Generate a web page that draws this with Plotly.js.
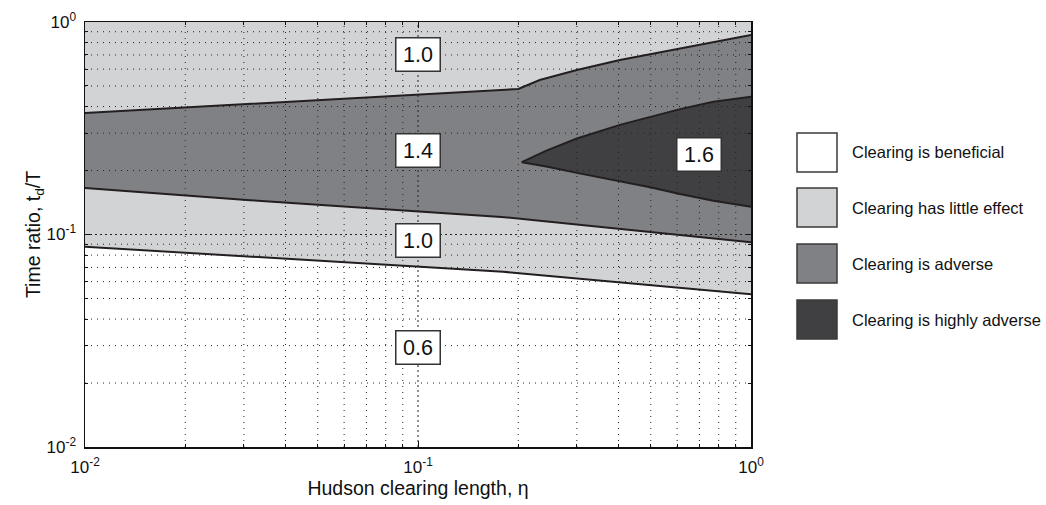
<!DOCTYPE html>
<html>
<head>
<meta charset="utf-8">
<script src="https://cdn.plot.ly/plotly-3.0.1.min.js"></script>
<style>
  html, body { margin: 0; padding: 0; background: #ffffff; }
  #chart { width: 1046px; height: 505px; }
</style>
</head>
<body>
<div id="chart"></div>
<script>
// Boundary between "little effect" (upper band) and "adverse"
const etaA = [0.01, 0.2, 0.232, 0.30, 0.404, 0.612, 1.0];
const tA   = [0.373, 0.484, 0.533, 0.594, 0.663, 0.752, 0.868];

// Boundary between "adverse" and lower "little effect" band
const etaB = [0.01, 0.0313, 0.178, 1.0];
const tB   = [0.1655, 0.145, 0.121, 0.092];

// Boundary between lower "little effect" band and "beneficial"
const etaC = [0.01, 0.0313, 0.18, 1.0];
const tC   = [0.0876, 0.0786, 0.0668, 0.0523];

// "Highly adverse" wedge: upper and lower edges
const etaD  = [0.205, 0.243, 0.30, 0.404, 0.498, 0.612, 0.771, 1.0];
const tDup  = [0.219, 0.248, 0.283, 0.328, 0.358, 0.389, 0.421, 0.445];
const tDlow = [0.219, 0.209, 0.195, 0.178, 0.167, 0.155, 0.144, 0.135];

// Contour level labels
const levelText = ['1.0', '1.4', '1.0', '0.6', '1.6'];
const levelEta  = [0.1, 0.1, 0.1, 0.1, 0.70];
const levelT    = [0.707, 0.248, 0.0934, 0.0294, 0.239];

// Legend entries
const legendLabels = ['Clearing is beneficial', 'Clearing has little effect',
                      'Clearing is adverse', 'Clearing is highly adverse'];
const regionColors = ['#ffffff', '#d2d3d5', '#808184', '#404042'];

// Axis ticks
const tickVals = [0.01, 0.1, 1];
const tickText = ['10<sup>-2</sup>', '10<sup>-1</sup>', '10<sup>0</sup>'];

const edgeColor = '#231f20';
const FONT = 'Liberation Sans, Arial, Helvetica, sans-serif';

// Minor decade positions (2..9 in each decade)
const minorVals = [];
[0.01, 0.1].forEach(d => { for (let m = 2; m <= 9; m++) minorVals.push(+(m * d).toFixed(3)); });

const rev = a => a.slice().reverse();

const traces = [
  // lower "little effect" band extends up to the top; adverse band painted over it
  { x: etaC.concat([1, 0.01]), y: tC.concat([1, 1]), fill: 'toself', fillcolor: regionColors[1],
    mode: 'lines', line: { width: 0 }, hoverinfo: 'skip', showlegend: false },
  { x: etaA.concat(rev(etaB)), y: tA.concat(rev(tB)), fill: 'toself', fillcolor: regionColors[2],
    mode: 'lines', line: { width: 0 }, hoverinfo: 'skip', showlegend: false },
  { x: etaD.concat(rev(etaD)), y: tDup.concat(rev(tDlow)), fill: 'toself', fillcolor: regionColors[3],
    mode: 'lines', line: { width: 0 }, hoverinfo: 'skip', showlegend: false },
  // boundary lines
  { x: etaA, y: tA, mode: 'lines', line: { color: edgeColor, width: 2 }, hoverinfo: 'skip', showlegend: false },
  { x: etaB, y: tB, mode: 'lines', line: { color: edgeColor, width: 2 }, hoverinfo: 'skip', showlegend: false },
  { x: etaC, y: tC, mode: 'lines', line: { color: edgeColor, width: 2 }, hoverinfo: 'skip', showlegend: false },
  { x: rev(etaD).concat(etaD.slice(1)), y: rev(tDup).concat(tDlow.slice(1)), mode: 'lines',
    line: { color: edgeColor, width: 2 }, hoverinfo: 'skip', showlegend: false }
];

// Dotted grid drawn above the filled regions
const shapes = [];
minorVals.concat([0.1]).forEach(v => {
  const dash = (v === 0.1) ? '2px,3px' : '1px,5px';
  shapes.push({ type: 'line', xref: 'x', yref: 'paper', x0: v, x1: v, y0: 0, y1: 1,
                line: { color: '#222', width: 1, dash: dash }, layer: 'above' });
  shapes.push({ type: 'line', xref: 'paper', yref: 'y', x0: 0, x1: 1, y0: v, y1: v,
                line: { color: '#222', width: 1, dash: dash }, layer: 'above' });
});

// Legend swatches (pixel layout converted to paper fractions)
const L = 85, R = 751, T = 22, B = 447;
const px = v => (v - L) / (R - L);
const py = v => (B - v) / (B - T);
const swatchTop = [133, 188, 244, 300];
const annotations = [];
legendLabels.forEach((lab, i) => {
  shapes.push({ type: 'rect', xref: 'paper', yref: 'paper',
                x0: px(797), x1: px(837), y0: py(swatchTop[i] + 39), y1: py(swatchTop[i]),
                fillcolor: regionColors[i], line: { color: '#3a3a3a', width: 1.5 } });
  annotations.push({ xref: 'paper', yref: 'paper', x: px(850), y: py(swatchTop[i] + 19.5),
                     xanchor: 'left', yanchor: 'middle', text: lab, showarrow: false,
                     font: { family: FONT, size: 16.5, color: '#111' } });
});

levelText.forEach((txt, i) => {
  annotations.push({ xref: 'x', yref: 'y', x: Math.log10(levelEta[i]), y: Math.log10(levelT[i]),
                     text: txt, showarrow: false, bgcolor: '#ffffff', bordercolor: '#333',
                     borderwidth: 1.5, borderpad: 2, width: 39, height: 28,
                     font: { family: FONT, size: 21.5, color: '#111' } });
});

const axisCommon = {
  type: 'log', range: [-2, 0], tickmode: 'array', tickvals: tickVals, ticktext: tickText,
  ticks: 'inside', ticklen: 6, tickwidth: 1, tickcolor: '#111',
  showline: true, linecolor: '#111', linewidth: 1.5, mirror: 'ticks',
  showgrid: false, zeroline: false,
  minor: { tickmode: 'array', tickvals: minorVals, ticks: 'inside', ticklen: 3,
           tickcolor: '#111', showgrid: false },
  tickfont: { family: FONT, size: 17, color: '#111' }
};

const layout = {
  width: 1046, height: 505,
  margin: { l: L, r: 1046 - R, t: T, b: 505 - B },
  paper_bgcolor: '#ffffff', plot_bgcolor: '#ffffff',
  font: { family: FONT, color: '#111' },
  xaxis: Object.assign({}, axisCommon, {
    title: { text: 'Hudson clearing length, η', font: { family: FONT, size: 19.5, color: '#111' }, standoff: 1 },
    ticklabelstandoff: 4
  }),
  yaxis: Object.assign({}, axisCommon, {
    title: { text: 'Time ratio, t<sub>d</sub>/T', font: { family: FONT, size: 19.5, color: '#111' }, standoff: 0 },
    ticklabelstandoff: 4
  }),
  shapes: shapes,
  annotations: annotations,
  showlegend: false
};

Plotly.newPlot('chart', traces, layout, { displayModeBar: false, staticPlot: true });
</script>
</body>
</html>
